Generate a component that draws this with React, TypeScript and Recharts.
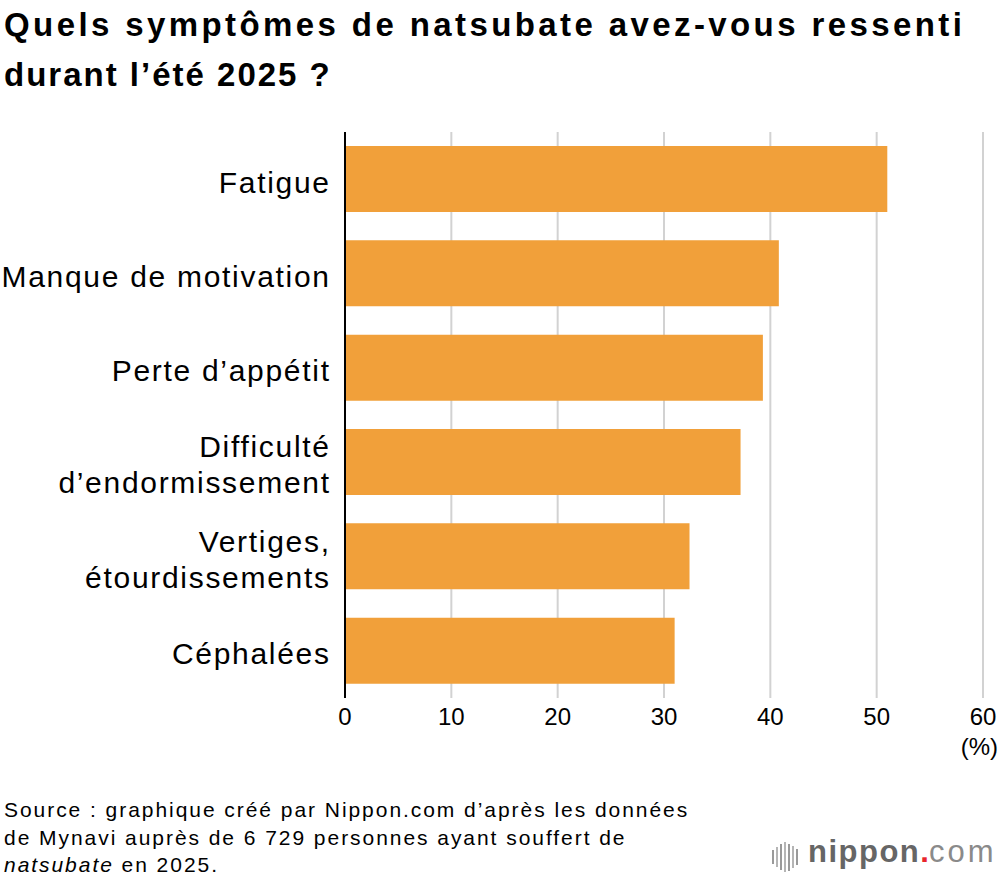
import React from "react";
import { Bar, BarChart, CartesianGrid, XAxis, YAxis } from "recharts";

const FONT = "'Liberation Sans', Arial, Helvetica, sans-serif";

const titleLines = ["Quels symptômes de natsubate avez-vous ressenti", "durant l’été 2025 ?"];

const symptoms = [
  "Fatigue",
  "Manque de motivation",
  "Perte d’appétit",
  "Difficulté\nd’endormissement",
  "Vertiges,\nétourdissements",
  "Céphalées",
];
const shares = [51.0, 40.8, 39.3, 37.2, 32.4, 31.0];
const xTicks = [0, 10, 20, 30, 40, 50, 60];

const rows = symptoms.map((name, i) => ({ name, value: shares[i] }));

const LABEL_LS = 1.7;

function SymptomTick(props: any) {
  const { x, y, payload } = props;
  const lines = String(payload.value).split("\n");
  const first = lines.length === 1 ? 13.5 : -5;
  return (
    <text
      x={x}
      y={y}
      textAnchor="end"
      fill="#000"
      fontSize={30}
      fontFamily={FONT}
      letterSpacing={LABEL_LS}
    >
      {lines.map((line, i) => (
        <tspan key={i} x={x + LABEL_LS} y={y + first + i * 36}>
          {line}
        </tspan>
      ))}
    </text>
  );
}

const logoBars = [14, 20, 26, 30, 27, 22, 16];

export default function App() {
  return (
    <div
      style={{
        position: "absolute",
        left: 0,
        top: 0,
        width: 1000,
        height: 880,
        background: "#fff",
        overflow: "hidden",
        fontFamily: FONT,
        color: "#000",
      }}
    >
      {titleLines.map((line, i) => (
        <div
          key={i}
          style={{
            position: "absolute",
            left: 4,
            top: i * 50,
            fontSize: 33,
            lineHeight: "50px",
            fontWeight: 700,
            letterSpacing: i === 0 ? 3.4 : 2.0,
            whiteSpace: "nowrap",
          }}
        >
          {line}
        </div>
      ))}

      <div style={{ position: "absolute", left: 0, top: 0 }}>
        <BarChart
          width={1000}
          height={780}
          layout="vertical"
          data={rows}
          margin={{ top: 132, right: 17, bottom: 0, left: 0 }}
        >
          <CartesianGrid horizontal={false} stroke="#d2d2d2" strokeWidth={2} />
          <XAxis
            type="number"
            domain={[0, 60]}
            ticks={xTicks}
            interval={0}
            height={82}
            axisLine={false}
            tickLine={false}
            tickMargin={4}
            tick={{ fontSize: 24, fill: "#000", fontFamily: FONT }}
          />
          <YAxis
            type="category"
            dataKey="name"
            width={345}
            interval={0}
            axisLine={{ stroke: "#000", strokeWidth: 2 }}
            tickLine={false}
            tickMargin={10}
            tick={<SymptomTick />}
          />
          <Bar dataKey="value" fill="#f1a03a" barSize={66} isAnimationActive={false} />
        </BarChart>
      </div>

      <div
        style={{
          position: "absolute",
          left: 950,
          width: 48,
          top: 735,
          textAlign: "right",
          fontSize: 24,
          lineHeight: "24px",
        }}
      >
        (%)
      </div>

      <div
        style={{
          position: "absolute",
          left: 4,
          top: 796,
          fontSize: 21,
          lineHeight: "27.5px",
          letterSpacing: 1.95,
          whiteSpace: "nowrap",
        }}
      >
        <div>Source : graphique créé par Nippon.com d’après les données</div>
        <div>de Mynavi auprès de 6 729 personnes ayant souffert de</div>
        <div>
          <i>natsubate</i> en 2025.
        </div>
      </div>

      <div
        style={{
          position: "absolute",
          left: 772,
          top: 842,
          height: 30,
          display: "flex",
          alignItems: "center",
          gap: 2,
        }}
      >
        {logoBars.map((h, i) => (
          <div key={i} style={{ width: 2, height: h, background: i % 2 ? "#b5b5b5" : "#9a9a9a" }} />
        ))}
      </div>
      <div
        style={{
          position: "absolute",
          left: 808,
          top: 834,
          fontSize: 31,
          lineHeight: "36px",
          whiteSpace: "nowrap",
        }}
      >
        <span style={{ fontWeight: 700, color: "#666", letterSpacing: 1.5 }}>nippon</span>
        <span style={{ fontWeight: 700, color: "#e8262b" }}>.</span>
        <span style={{ color: "#8a8a8a", letterSpacing: 3 }}>com</span>
      </div>
    </div>
  );
}
